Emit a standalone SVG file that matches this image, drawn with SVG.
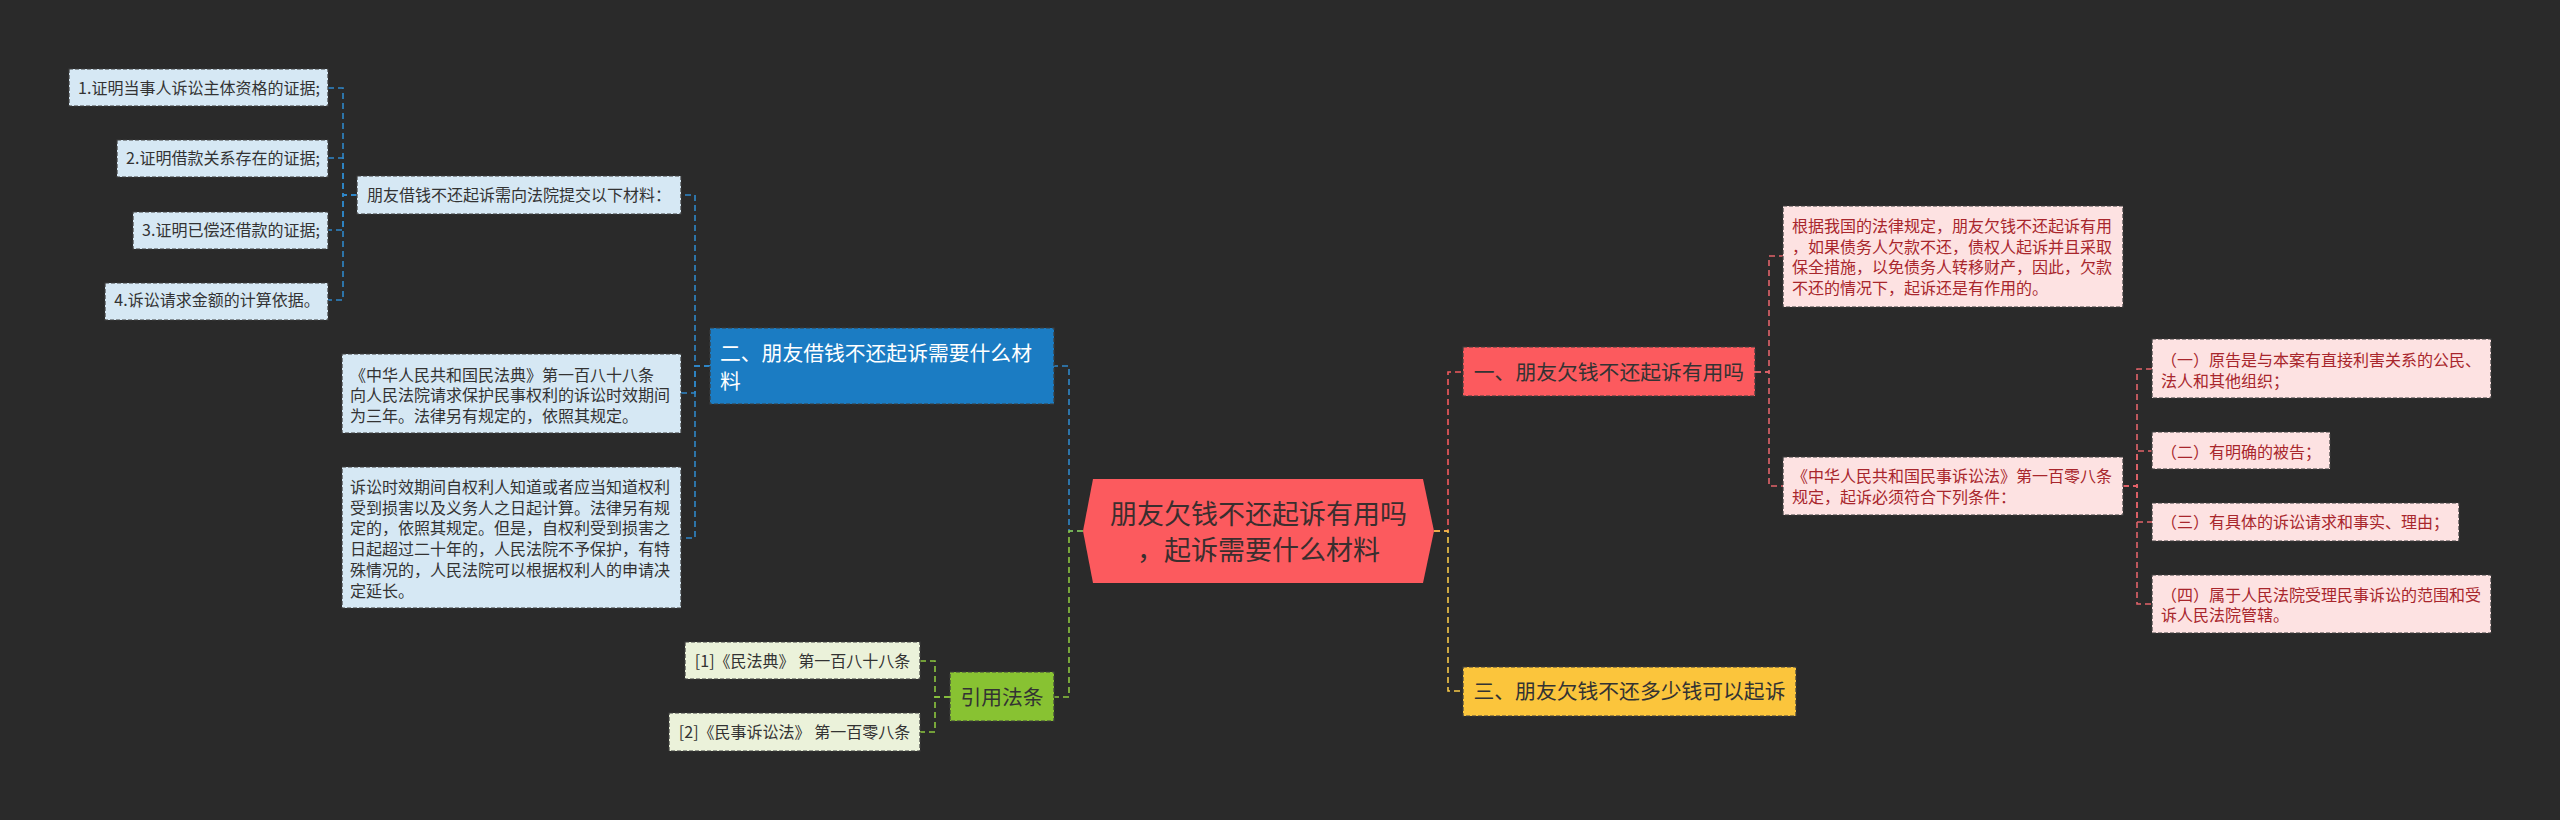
<svg xmlns="http://www.w3.org/2000/svg" width="2560" height="820" viewBox="0 0 2560 820">
<style>
text{font-family:"Microsoft YaHei","Noto Sans CJK SC","Noto Sans",sans-serif;}
.bx{stroke:#3c3c3c;stroke-width:1.2;stroke-dasharray:4,2;}
.lb{fill:#d6e8f4;}
.lg{fill:#ebf2da;}
.pk{fill:#fde2e2;}
.s{font-size:16px;fill:#333;}
.sp{font-size:16px;fill:#a8262c;}
.m{font-size:20.8px;}
.c{fill:none;stroke-width:1.6;stroke-dasharray:6,4;}
.cb{stroke:#2f87c9;}
.cg{stroke:#8cc63f;}
.cr{stroke:#f2595d;}
.cy{stroke:#f7c948;}
.cp{stroke:#e2636a;}
</style>
<rect width="2560" height="820" fill="#2a2a2a"/>
<g id="connectors">
<path class="c cb" d="M1083,531 H1069 V366 H1054"/>
<path class="c cg" d="M1083,531 H1069 V697 H1054"/>
<path class="c cr" d="M1434,531 H1448 V372 H1463"/>
<path class="c cy" d="M1434,531 H1448 V691 H1463"/>
<path class="c cb" d="M710,366 H695 V195 H681"/>
<path class="c cb" d="M710,366 H695 V393 H681"/>
<path class="c cb" d="M710,366 H695 V538 H681"/>
<path class="c cb" d="M357,195 H343 V88 H328"/>
<path class="c cb" d="M357,195 H343 V158 H328"/>
<path class="c cb" d="M357,195 H343 V230 H328"/>
<path class="c cb" d="M357,195 H343 V300 H328"/>
<path class="c cg" d="M950,697 H935 V661 H920"/>
<path class="c cg" d="M950,697 H935 V732 H920"/>
<path class="c cp" d="M1755,372 H1769 V256 H1783"/>
<path class="c cp" d="M1755,372 H1769 V486 H1783"/>
<path class="c cp" d="M2123,486 H2137 V369 H2152"/>
<path class="c cp" d="M2123,486 H2137 V451 H2152"/>
<path class="c cp" d="M2123,486 H2137 V522 H2152"/>
<path class="c cp" d="M2123,486 H2137 V604 H2152"/>
</g>
<g id="root">
<path d="M1083,531 L1093,479 L1423,479 L1434,531 L1423,583 L1093,583 Z" fill="#fc5a5e"/>
<text x="1258.5" y="524" font-size="27" fill="#3a2e2e" text-anchor="middle">朋友欠钱不还起诉有用吗</text>
<text x="1258.5" y="560" font-size="27" fill="#3a2e2e" text-anchor="middle">，起诉需要什么材料</text>
</g>
<g id="n-branch2">
<rect class="bx" x="710" y="328" width="344" height="76" fill="#1b7cc3"/>
<text class="m" x="720" y="361" fill="#ffffff">二、朋友借钱不还起诉需要什么材</text>
<text class="m" x="720" y="389" fill="#ffffff">料</text>
</g>
<g id="n-materials">
<rect class="bx lb" x="357" y="176" width="324" height="38"/>
<text class="s" x="519" y="201" text-anchor="middle">朋友借钱不还起诉需向法院提交以下材料：</text>
</g>
<g id="n-m1">
<rect class="bx lb" x="69" y="69" width="259" height="37"/>
<text class="s" x="199" y="94" text-anchor="middle">1.证明当事人诉讼主体资格的证据;</text>
</g>
<g id="n-m2">
<rect class="bx lb" x="117" y="140" width="211" height="37"/>
<text class="s" x="223" y="164" text-anchor="middle">2.证明借款关系存在的证据;</text>
</g>
<g id="n-m3">
<rect class="bx lb" x="133" y="212" width="195" height="37"/>
<text class="s" x="231" y="236" text-anchor="middle">3.证明已偿还借款的证据;</text>
</g>
<g id="n-m4">
<rect class="bx lb" x="105" y="283" width="223" height="37"/>
<text class="s" x="217" y="306" text-anchor="middle">4.诉讼请求金额的计算依据。</text>
</g>
<g id="n-law1">
<rect class="bx lb" x="342" y="354" width="339" height="79"/>
<text class="s" x="350" y="381">《中华人民共和国民法典》第一百八十八条</text>
<text class="s" x="350" y="401">向人民法院请求保护民事权利的诉讼时效期间</text>
<text class="s" x="350" y="422">为三年。法律另有规定的，依照其规定。</text>
</g>
<g id="n-law2">
<rect class="bx lb" x="342" y="467" width="339" height="141"/>
<text class="s" x="350" y="493">诉讼时效期间自权利人知道或者应当知道权利</text>
<text class="s" x="350" y="514">受到损害以及义务人之日起计算。法律另有规</text>
<text class="s" x="350" y="534">定的，依照其规定。但是，自权利受到损害之</text>
<text class="s" x="350" y="555">日起超过二十年的，人民法院不予保护，有特</text>
<text class="s" x="350" y="576">殊情况的，人民法院可以根据权利人的申请决</text>
<text class="s" x="350" y="597">定延长。</text>
</g>
<g id="n-cite">
<rect class="bx" x="950" y="672" width="104" height="49" fill="#88c232"/>
<text class="m" x="1002" y="705" fill="#333" text-anchor="middle">引用法条</text>
</g>
<g id="n-cite1">
<rect class="bx lg" x="685" y="642" width="235" height="37"/>
<text class="s" x="802.5" y="667" text-anchor="middle">[1]《民法典》 第一百八十八条</text>
</g>
<g id="n-cite2">
<rect class="bx lg" x="669" y="713" width="251" height="38"/>
<text class="s" x="794.5" y="738" text-anchor="middle">[2]《民事诉讼法》 第一百零八条</text>
</g>
<g id="n-branch1">
<rect class="bx" x="1463" y="347" width="292" height="49" fill="#fc5a5e"/>
<text class="m" x="1609" y="380" fill="#333" text-anchor="middle">一、朋友欠钱不还起诉有用吗</text>
</g>
<g id="n-branch3">
<rect class="bx" x="1463" y="667" width="333" height="49" fill="#fbc53c"/>
<text class="m" x="1629.5" y="699" fill="#333" text-anchor="middle">三、朋友欠钱不还多少钱可以起诉</text>
</g>
<g id="n-useful">
<rect class="bx pk" x="1783" y="206" width="340" height="101"/>
<text class="sp" x="1792" y="232">根据我国的法律规定，朋友欠钱不还起诉有用</text>
<text class="sp" x="1792" y="253">，如果债务人欠款不还，债权人起诉并且采取</text>
<text class="sp" x="1792" y="273">保全措施，以免债务人转移财产，因此，欠款</text>
<text class="sp" x="1792" y="294">不还的情况下，起诉还是有作用的。</text>
</g>
<g id="n-civil">
<rect class="bx pk" x="1783" y="457" width="340" height="58"/>
<text class="sp" x="1792" y="482">《中华人民共和国民事诉讼法》第一百零八条</text>
<text class="sp" x="1792" y="503">规定，起诉必须符合下列条件：</text>
</g>
<g id="n-c1">
<rect class="bx pk" x="2152" y="339" width="339" height="59"/>
<text class="sp" x="2161" y="366">（一）原告是与本案有直接利害关系的公民、</text>
<text class="sp" x="2161" y="387">法人和其他组织；</text>
</g>
<g id="n-c2">
<rect class="bx pk" x="2152" y="432" width="178" height="37"/>
<text class="sp" x="2161" y="458">（二）有明确的被告；</text>
</g>
<g id="n-c3">
<rect class="bx pk" x="2152" y="503" width="307" height="38"/>
<text class="sp" x="2161" y="528">（三）有具体的诉讼请求和事实、理由；</text>
</g>
<g id="n-c4">
<rect class="bx pk" x="2152" y="575" width="339" height="58"/>
<text class="sp" x="2161" y="601">（四）属于人民法院受理民事诉讼的范围和受</text>
<text class="sp" x="2161" y="621">诉人民法院管辖。</text>
</g>
</svg>
